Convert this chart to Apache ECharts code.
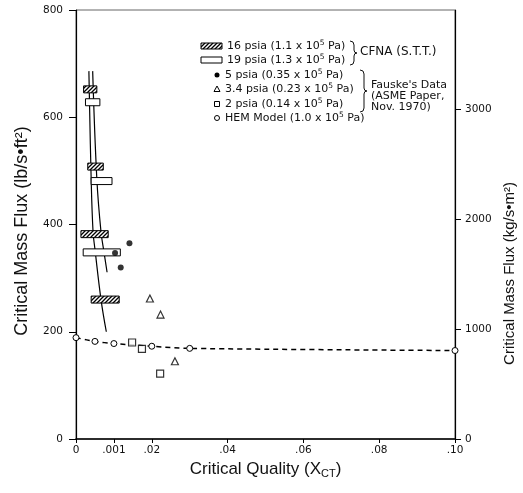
<!DOCTYPE html>
<html>
<head>
<meta charset="utf-8">
<script src="https://cdn.jsdelivr.net/npm/echarts@6/dist/echarts.min.js"></script>
<style>
  html, body { margin: 0; padding: 0; background: #fff; }
  #chart { width: 523px; height: 493px; }
</style>
</head>
<body>
<div id="chart"></div>
<script>
// CFNA (S.T.T.) measurements: quality range [low, high] at a given mass flux (lb/s·ft²)
const cfna16Low  = [0.0020, 0.0031, 0.0013, 0.0040];
const cfna16High = [0.0055, 0.0072, 0.0085, 0.0114];
const cfna16Flux = [652, 508, 382, 260];
const cfna19Low  = [0.0025, 0.0040, 0.0019];
const cfna19High = [0.0063, 0.0095, 0.0117];
const cfna19Flux = [628, 481, 348];

// CFNA prediction curves (quality, mass flux)
const curveAX = [0.0034, 0.0040, 0.0045, 0.0050, 0.0066, 0.0080];
const curveAY = [686, 485, 386, 354, 260, 200];
const curveBX = [0.0044, 0.0055, 0.0066, 0.0074, 0.0082];
const curveBY = [686, 485, 386, 348, 311];

// Fauske's data
const p5X  = [0.0141, 0.0103, 0.0118];
const p5Y  = [365, 347, 320];
const p34X = [0.0195, 0.0223, 0.0261];
const p34Y = [262, 232, 145];
const p2X  = [0.0148, 0.0174, 0.0222];
const p2Y  = [180, 168, 122];

// HEM model
const hemX = [0, 0.005, 0.010, 0.020, 0.030, 0.100];
const hemY = [189, 182, 178, 173, 169, 165];

// Axis ticks
const xTicks = [0, 0.01, 0.02, 0.04, 0.06, 0.08, 0.10];
const xTickLabels = ['0', '.001', '.02', '.04', '.06', '.08', '.10'];
const yTicks = [0, 200, 400, 600, 800];
const siTicks = [0, 1000, 2000, 3000];
const LB_TO_SI = 4.882;   // lb/s·ft² -> kg/s·m²

const zip = (a, b) => a.map((v, i) => [v, b[i]]);
const zip3 = (a, b, c) => a.map((v, i) => [v, b[i], c[i]]);

// diagonal hatch fill for the 16 psia bars
function hatch() {
  const c = document.createElement('canvas');
  c.width = 4; c.height = 4;
  const g = c.getContext('2d');
  g.fillStyle = '#fff'; g.fillRect(0, 0, 4, 4);
  g.strokeStyle = '#000'; g.lineWidth = 1.3;
  g.beginPath();
  g.moveTo(-1, 5); g.lineTo(5, -1);
  g.moveTo(-1, 1); g.lineTo(1, -1);
  g.moveTo(3, 5); g.lineTo(5, 3);
  g.stroke();
  return c;
}
const hatchPattern = { image: hatch(), repeat: 'repeat' };

function rangeBar(fill) {
  return function (params, api) {
    const a = api.coord([api.value(0), api.value(2)]);
    const b = api.coord([api.value(1), api.value(2)]);
    return {
      type: 'rect',
      shape: { x: a[0], y: a[1] - 3.5, width: b[0] - a[0], height: 7 },
      style: { fill: fill, stroke: '#000', lineWidth: 1 }
    };
  };
}

const tickFont = { fontFamily: '"DejaVu Sans", sans-serif', fontSize: 10.5, color: '#111' };
const titleFamily = '"Liberation Sans", Arial, sans-serif';
const legFont = '"DejaVu Sans", sans-serif';

// legend layout
const rows = [46, 60, 75, 89, 104, 118];
const supRich = {
  sup: { fontSize: 7.5, verticalAlign: 'top', padding: [0, 0, 6, 0], fontFamily: legFont, fill: '#111' }
};
function legText(x, y, str, size) {
  return {
    type: 'text', x: x, y: y,
    style: {
      text: str, font: (size || 11) + 'px ' + legFont, fill: '#111',
      verticalAlign: 'middle', rich: supRich
    }
  };
}
// right-facing curly brace built from quadratic curves and straight runs
function brace(x, y0, y1) {
  const ym = (y0 + y1) / 2;
  const s = { fill: null, stroke: '#111', lineWidth: 1 };
  return {
    type: 'group',
    children: [
      { type: 'bezierCurve', shape: { x1: x, y1: y0, cpx1: x + 4, cpy1: y0, x2: x + 4, y2: y0 + 4 }, style: s },
      { type: 'line', shape: { x1: x + 4, y1: y0 + 4, x2: x + 4, y2: ym - 3 }, style: s },
      { type: 'bezierCurve', shape: { x1: x + 4, y1: ym - 3, cpx1: x + 4, cpy1: ym, x2: x + 7, y2: ym }, style: s },
      { type: 'bezierCurve', shape: { x1: x + 7, y1: ym, cpx1: x + 4, cpy1: ym, x2: x + 4, y2: ym + 3 }, style: s },
      { type: 'line', shape: { x1: x + 4, y1: ym + 3, x2: x + 4, y2: y1 - 4 }, style: s },
      { type: 'bezierCurve', shape: { x1: x + 4, y1: y1 - 4, cpx1: x + 4, cpy1: y1, x2: x, y2: y1 }, style: s }
    ]
  };
}

const legendGraphics = [
  { type: 'rect', shape: { x: 201, y: rows[0] - 3, width: 21, height: 6 }, style: { fill: hatchPattern, stroke: '#000', lineWidth: 1 } },
  legText(227, rows[0], '16 psia (1.1 x 10{sup|5} Pa)'),
  { type: 'rect', shape: { x: 201, y: rows[1] - 3, width: 21, height: 6 }, style: { fill: '#fff', stroke: '#000', lineWidth: 1 } },
  legText(227, rows[1], '19 psia (1.3 x 10{sup|5} Pa)'),
  { type: 'circle', shape: { cx: 217, cy: rows[2], r: 2.5 }, style: { fill: '#000' } },
  legText(225, rows[2], '5 psia (0.35 x 10{sup|5} Pa)'),
  { type: 'polygon', shape: { points: [[217, rows[3] - 3], [220, rows[3] + 2.5], [214, rows[3] + 2.5]] }, style: { fill: '#fff', stroke: '#000', lineWidth: 1 } },
  legText(225, rows[3], '3.4 psia (0.23 x 10{sup|5} Pa)'),
  { type: 'rect', shape: { x: 214.5, y: rows[4] - 2.5, width: 5, height: 5 }, style: { fill: '#fff', stroke: '#000', lineWidth: 1 } },
  legText(225, rows[4], '2 psia (0.14 x 10{sup|5} Pa)'),
  { type: 'circle', shape: { cx: 217, cy: rows[5], r: 2.5 }, style: { fill: '#fff', stroke: '#000', lineWidth: 1 } },
  legText(225, rows[5], 'HEM Model (1.0 x 10{sup|5} Pa)'),
  brace(350, 41, 65),
  legText(360, 52, 'CFNA (S.T.T.)', 12),
  brace(360, 70, 112),
  legText(371, 85, "Fauske's Data"),
  legText(371, 96, '(ASME Paper,'),
  legText(371, 107, 'Nov. 1970)')
];

const chart = echarts.init(document.getElementById('chart'), null, { renderer: 'canvas' });
chart.setOption({
  animation: false,
  backgroundColor: '#fff',
  grid: {
    left: 76, right: 68, top: 10, bottom: 54, containLabel: false, outerBoundsMode: 'none',
    show: true, borderColor: '#666', borderWidth: 1
  },
  xAxis: {
    type: 'value', min: 0, max: 0.1,
    name: 'Critical Quality (X{sub|CT})', nameLocation: 'middle', nameGap: 19,
    nameTextStyle: {
      fontFamily: titleFamily, fontSize: 17, color: '#111',
      rich: { sub: { fontSize: 11, verticalAlign: 'bottom', padding: [9, 0, 0, 0], fontFamily: titleFamily, color: '#111' } }
    },
    axisLine: { lineStyle: { color: '#000', width: 1.5 } },
    axisTick: { customValues: xTicks, length: 4, inside: false, lineStyle: { color: '#000' } },
    axisLabel: Object.assign({}, tickFont, {
      customValues: xTicks, margin: 6,
      formatter: v => { const i = xTicks.findIndex(t => Math.abs(t - v) < 1e-9); return i >= 0 ? xTickLabels[i] : ''; }
    }),
    splitLine: { show: false }
  },
  yAxis: [{
    type: 'value', min: 0, max: 800, interval: 200, position: 'left',
    name: 'Critical Mass Flux (lb/s•ft²)', nameLocation: 'middle', nameGap: 45, nameRotate: 90,
    nameTextStyle: { fontFamily: titleFamily, fontSize: 18, color: '#111', padding: [0, 13, 0, 0] },
    axisLine: { show: true, lineStyle: { color: '#000', width: 1.2 } },
    axisTick: { show: true, length: 7, lineStyle: { color: '#000' } },
    axisLabel: Object.assign({}, tickFont, { margin: 13, formatter: v => String(v) }),
    splitLine: { show: false }
  }, {
    type: 'value', min: 0, max: 800 * LB_TO_SI, position: 'right',
    name: 'Critical Mass Flux (kg/s•m²)', nameLocation: 'middle', nameGap: 44, nameRotate: 90,
    nameTextStyle: { fontFamily: titleFamily, fontSize: 15, color: '#111', padding: [0, 98, 0, 0] },
    axisLine: { show: true, lineStyle: { color: '#000', width: 1.2 } },
    axisTick: { show: true, length: 6, customValues: siTicks, lineStyle: { color: '#000' } },
    axisLabel: Object.assign({}, tickFont, { margin: 10, customValues: siTicks, formatter: v => String(v) }),
    splitLine: { show: false }
  }],
  graphic: legendGraphics,
  series: [
    {
      name: 'curve A', type: 'line', data: zip(curveAX, curveAY), smooth: 0.4,
      showSymbol: false, lineStyle: { color: '#000', width: 1.2 }, z: 2
    },
    {
      name: 'curve B', type: 'line', data: zip(curveBX, curveBY), smooth: 0.4,
      showSymbol: false, lineStyle: { color: '#000', width: 1.2 }, z: 2
    },
    {
      name: '16 psia', type: 'custom', renderItem: rangeBar(hatchPattern),
      data: zip3(cfna16Low, cfna16High, cfna16Flux), encode: { x: [0, 1], y: 2 }, z: 3
    },
    {
      name: '19 psia', type: 'custom', renderItem: rangeBar('#fff'),
      data: zip3(cfna19Low, cfna19High, cfna19Flux), encode: { x: [0, 1], y: 2 }, z: 3
    },
    {
      name: 'HEM Model', type: 'line', data: zip(hemX, hemY), smooth: 0.3,
      symbol: 'circle', symbolSize: 6, showAllSymbol: true,
      itemStyle: { color: '#fff', borderColor: '#000', borderWidth: 1 },
      lineStyle: { color: '#000', width: 1.5, type: [5, 4] }, z: 4
    },
    {
      name: '5 psia', type: 'scatter', data: zip(p5X, p5Y), symbol: 'circle', symbolSize: 6,
      itemStyle: { color: '#000' }, z: 5
    },
    {
      name: '3.4 psia', type: 'scatter', data: zip(p34X, p34Y), symbol: 'triangle', symbolSize: 7,
      itemStyle: { color: '#fff', borderColor: '#000', borderWidth: 1.2 }, z: 5
    },
    {
      name: '2 psia', type: 'scatter', data: zip(p2X, p2Y), symbol: 'rect', symbolSize: 7,
      itemStyle: { color: '#fff', borderColor: '#000', borderWidth: 1.2 }, z: 5
    }
  ]
});
</script>
</body>
</html>
